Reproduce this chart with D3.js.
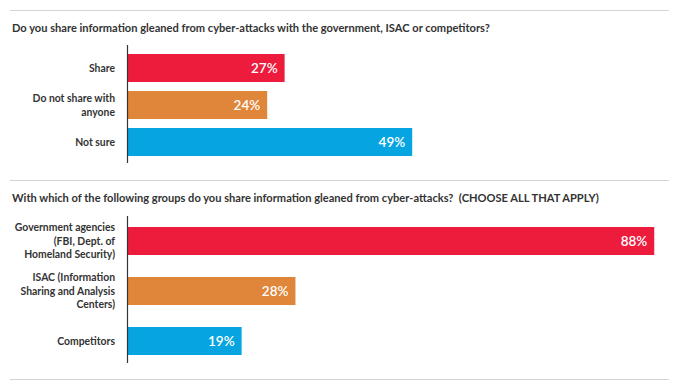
<!DOCTYPE html>
<html>
<head>
<meta charset="utf-8">
<script src="https://cdn.jsdelivr.net/npm/d3@7"></script>
<style>
body{margin:0;background:#fff;}
svg{display:block;}
text{white-space:pre;}
</style>
</head>
<body>
<svg id="chart" width="679" height="392"></svg>
<script>
const title1 = "Do you share information gleaned from cyber-attacks with the government, ISAC or competitors?";
const categories1 = ["Share", "Do not share with\nanyone", "Not sure"];
const values1 = [27, 24, 49];

const title2 = "With which of the following groups do you share information gleaned from cyber-attacks?  (CHOOSE ALL THAT APPLY)";
const categories2 = ["Government agencies\n(FBI, Dept. of\nHomeland Security)", "ISAC (Information\nSharing and Analysis\nCenters)", "Competitors"];
const values2 = [88, 28, 19];

const colors = ["#ED1C3C", "#E0863A", "#06A4E1"];

const svg = d3.select("#chart");
const FONT = "Lato, 'DejaVu Sans', sans-serif";
const textColor = "#333333";

function panel(cfg) {
  const g = svg.append("g");
  g.append("line").attr("x1", 10).attr("x2", 669)
    .attr("y1", cfg.rule + 0.5).attr("y2", cfg.rule + 0.5)
    .attr("stroke", "#d4d4d4").attr("stroke-width", 1.2);
  g.append("text").attr("x", 12).attr("y", cfg.titleY)
    .attr("xml:space", "preserve")
    .attr("font-family", FONT).attr("font-weight", "bold")
    .attr("font-size", 11.1).attr("fill", textColor).text(cfg.title);

  const x = d3.scaleLinear().domain([0, 100]).range([128, 128 + cfg.pxPer100]);
  const y = d3.scaleBand().domain(cfg.categories)
    .range([cfg.y0, cfg.y1]).paddingInner(cfg.padInner).paddingOuter(cfg.padOuter);

  g.selectAll("rect.bar").data(cfg.values).enter().append("rect")
    .attr("class", "bar")
    .attr("x", x(0))
    .attr("y", (d, i) => y(cfg.categories[i]))
    .attr("width", d => x(d) - x(0))
    .attr("height", y.bandwidth())
    .attr("fill", (d, i) => colors[i]);

  g.selectAll("text.val").data(cfg.values).enter().append("text")
    .attr("class", "val")
    .attr("x", d => x(d) - 7)
    .attr("y", (d, i) => y(cfg.categories[i]) + y.bandwidth() / 2)
    .attr("dy", "0.36em")
    .attr("text-anchor", "end")
    .attr("font-family", FONT).attr("font-weight", 600)
    .attr("font-size", 13.5).attr("fill", "#fff")
    .text(d => d + "%");

  const axis = d3.axisLeft(y).tickSize(0).tickFormat("");
  const ag = g.append("g").attr("transform", `translate(${x(0) - 0.5},0)`).call(axis);
  ag.select(".domain").attr("stroke", "#333").attr("stroke-width", 1.2)
    .attr("d", `M0,${cfg.axTop}V${cfg.axBottom}`);

  const lh = cfg.lineH;
  g.selectAll("text.cat").data(cfg.categories).enter().append("text")
    .attr("class", "cat")
    .attr("text-anchor", "end")
    .attr("font-family", FONT).attr("font-weight", "bold")
    .attr("font-size", 10.4).attr("fill", textColor)
    .each(function (d) {
      const lines = d.split("\n");
      const cy = y(d) + y.bandwidth() / 2;
      const start = cy - (lines.length - 1) * lh / 2;
      d3.select(this).selectAll("tspan").data(lines).enter().append("tspan")
        .attr("x", 115)
        .attr("y", (l, j) => start + j * lh)
        .attr("dy", "0.35em")
        .text(l => l);
    });
}

panel({
  rule: 10, titleY: 32, title: title1,
  categories: categories1, values: values1,
  y0: 45, y1: 165, padInner: 0.243, padOuter: 0.243,
  pxPer100: 580, axTop: 45, axBottom: 163, lineH: 14
});

panel({
  rule: 180, titleY: 202, title: title2,
  categories: categories2, values: values2,
  y0: 216, y1: 366, padInner: 0.44, padOuter: 0.22,
  pxPer100: 598, axTop: 216, axBottom: 363, lineH: 13.5
});

svg.append("line").attr("x1", 10).attr("x2", 669).attr("y1", 379.5).attr("y2", 379.5)
  .attr("stroke", "#d4d4d4").attr("stroke-width", 1.2);
</script>
</body>
</html>
